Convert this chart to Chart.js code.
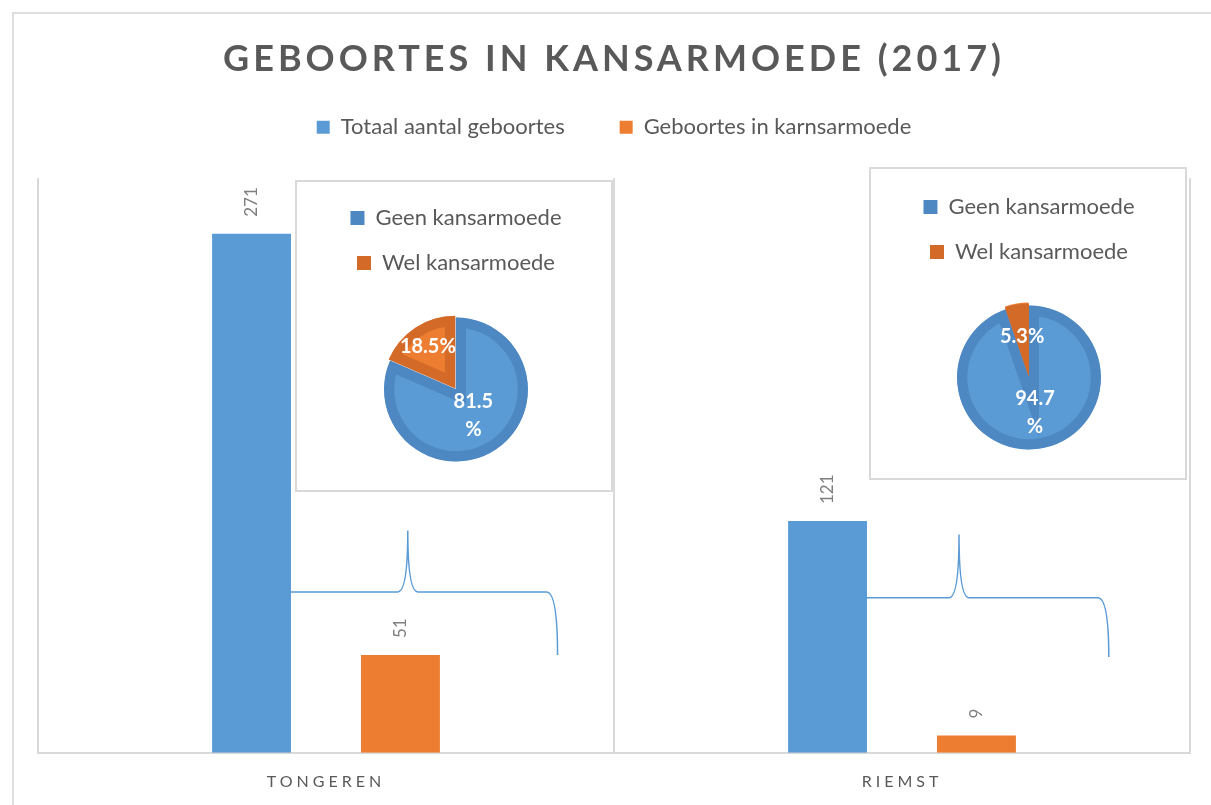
<!DOCTYPE html>
<html>
<head>
<meta charset="utf-8">
<script src="https://cdn.jsdelivr.net/npm/chart.js@4.4.1/dist/chart.umd.min.js"></script>
<style>
  html, body { margin: 0; padding: 0; background: #fff; }
  body { width: 1211px; height: 805px; position: relative; overflow: hidden; }
  #frame { position: absolute; left: 12px; top: 12px; width: 1300px; height: 900px; border: 2px solid #dedede; }
  #main { position: absolute; left: 0; top: 0; }
  .inset { position: absolute; background: #fff; border: 2px solid #d9d9d9; box-sizing: border-box; }
  .pie { position: absolute; }
</style>
</head>
<body>
<div id="frame"></div>
<canvas id="main" width="1211" height="805"></canvas>
<div class="inset" style="left:295px;top:180px;width:318px;height:312px"></div>
<div class="inset" style="left:869px;top:167px;width:318px;height:313px"></div>
<canvas class="pie" id="pieTongeren" width="318" height="320" style="left:297px;top:182px"></canvas>
<canvas class="pie" id="pieRiemst" width="318" height="320" style="left:870px;top:170px"></canvas>
<script>
const categories = ["TONGEREN", "RIEMST"];
const seriesNames = ["Totaal aantal geboortes", "Geboortes in karnsarmoede"];
const totalBirths = [271, 121];
const povertyBirths = [51, 9];
const yMax = 300;

const pieLabels = ["Geen kansarmoede", "Wel kansarmoede"];
const tongerenShares = [81.5, 18.5];
const riemstShares = [94.7, 5.3];

const BLUE = "#5B9BD5";
const ORANGE = "#ED7D31";
const BLUE_RING = "#4E88C2";
const ORANGE_RING = "#D36A28";
const TEXT = "#595959";

// draws text with extra spacing between letters for one layout box
function spaceLetters(obj, method, px) {
  if (!obj || obj["_sp_" + method]) return;
  const orig = obj[method];
  obj[method] = function (...a) {
    const c = this.ctx;
    c.save();
    c.letterSpacing = px;
    orig.apply(this, a);
    c.restore();
  };
  obj["_sp_" + method] = true;
}

const letterSpacing = {
  id: "letterSpacing",
  beforeDraw(chart) {
    spaceLetters(chart.titleBlock, "draw", "4px");
    spaceLetters(chart.scales.x, "drawLabels", "4px");
  }
};

// extra empty room under the legend, before the plot starts
const legendGap = {
  id: "legendGap",
  afterInit(chart, args, opts) {
    const legend = chart.legend;
    const fit = legend.fit;
    legend.fit = function () {
      fit.call(this);
      this.height += opts.extra;
    };
  }
};

const barValues = {
  id: "barValues",
  afterDatasetsDraw(chart) {
    const ctx = chart.ctx;
    ctx.save();
    ctx.fillStyle = "#7F7F7F";
    ctx.font = "17px Lato";
    ctx.textAlign = "left";
    ctx.textBaseline = "middle";
    chart.data.datasets.forEach((ds, di) => {
      chart.getDatasetMeta(di).data.forEach((bar, i) => {
        ctx.save();
        ctx.translate(bar.x, bar.y - 17);
        ctx.rotate(-Math.PI / 2);
        ctx.fillText(String(ds.data[i]), 0, 0);
        ctx.restore();
      });
    });
    ctx.restore();
  }
};

// curly braces linking the blue bar with the inset pie
const braces = {
  id: "braces",
  afterDatasetsDraw(chart, args, opts) {
    const ctx = chart.ctx;
    const x = chart.scales.x, y = chart.scales.y;
    const step = x.getPixelForValue(1) - x.getPixelForValue(0);
    const blue = chart.getDatasetMeta(0).data;
    ctx.save();
    ctx.strokeStyle = BLUE;
    ctx.lineWidth = 1.5;
    opts.items.forEach(b => {
      const c = x.getPixelForValue(b.category);
      const sx = blue[b.category].x + blue[b.category].width / 2;
      const tx = c + b.tipAt * step;
      const ex = c + b.endAt * step;
      const yl = y.getPixelForValue(b.level);
      const yt = y.getPixelForValue(b.tip);
      const ye = y.getPixelForValue(b.end);
      ctx.beginPath();
      ctx.moveTo(sx, yl);
      ctx.lineTo(tx - 10, yl);
      ctx.quadraticCurveTo(tx, yl, tx, yt);
      ctx.quadraticCurveTo(tx, yl, tx + 10, yl);
      ctx.lineTo(ex - 11, yl);
      ctx.quadraticCurveTo(ex, yl, ex, ye);
      ctx.stroke();
    });
    ctx.restore();
  }
};

new Chart(document.getElementById("main"), {
  type: "bar",
  data: {
    labels: categories,
    datasets: [
      { label: seriesNames[0], data: totalBirths, backgroundColor: BLUE, categoryPercentage: 0.517, barPercentage: 0.53 },
      { label: seriesNames[1], data: povertyBirths, backgroundColor: ORANGE, categoryPercentage: 0.517, barPercentage: 0.53 }
    ]
  },
  options: {
    responsive: false,
    animation: false,
    layout: { padding: { left: 38, right: 21, top: 12, bottom: -5 } },
    scales: {
      x: {
        grid: { color: "#d9d9d9", lineWidth: 2, drawTicks: false },
        border: { color: "#d9d9d9", width: 2 },
        ticks: { color: TEXT, font: { family: "Lato", size: 16 }, padding: 19, maxRotation: 0 }
      },
      y: { display: false, min: 0, max: yMax }
    },
    plugins: {
      title: {
        display: true,
        text: "GEBOORTES IN KANSARMOEDE (2017)",
        color: TEXT,
        font: { family: "Lato", size: 36, weight: "bold" },
        padding: { top: 26, bottom: -20 }
      },
      legend: {
        labels: {
          color: TEXT,
          font: { family: "Lato", size: 22 },
          boxWidth: 13,
          boxHeight: 13,
          padding: 55
        }
      },
      legendGap: { extra: 30 },
      braces: {
        items: [
          { category: 0, level: 84, tip: 116, end: 51, tipAt: 0.142, endAt: 0.402 },
          { category: 1, level: 81, tip: 114, end: 50, tipAt: 0.099, endAt: 0.359 }
        ]
      },
      tooltip: { enabled: false }
    }
  },
  plugins: [letterSpacing, legendGap, barValues, braces]
});

const sliceLabels = {
  id: "sliceLabels",
  afterDatasetsDraw(chart, args, opts) {
    const ctx = chart.ctx;
    const values = chart.data.datasets[0].data;
    ctx.save();
    ctx.fillStyle = "#fff";
    ctx.font = "bold 20px Lato";
    ctx.textAlign = "center";
    ctx.textBaseline = "middle";
    chart.getDatasetMeta(0).data.forEach((arc, i) => {
      const p = arc.getProps(["x", "y", "startAngle", "endAngle", "outerRadius"]);
      const mid = (p.startAngle + p.endAngle) / 2;
      const d = p.outerRadius * opts.radius[i] + (arc.options.offset || 0);
      const lx = p.x + Math.cos(mid) * d;
      const ly = p.y + Math.sin(mid) * d;
      const txt = values[i].toFixed(1);
      if (values[i] > 50) {
        ctx.fillText(txt, lx, ly - 14);
        ctx.fillText("%", lx, ly + 14);
      } else {
        ctx.fillText(txt + "%", lx, ly);
      }
    });
    ctx.restore();
  }
};

function makePie(id, shares, pad, labelRadius) {
  return new Chart(document.getElementById(id), {
    type: "pie",
    data: {
      labels: pieLabels,
      datasets: [{
        data: shares,
        backgroundColor: [BLUE, ORANGE],
        borderColor: [BLUE_RING, ORANGE_RING],
        borderWidth: 10,
        borderAlign: "inner",
        borderJoinStyle: "miter",
        offset: [0, 8],
        radius: 72
      }]
    },
    options: {
      responsive: false,
      animation: false,
      layout: { padding: pad },
      plugins: {
        legend: {
          labels: {
            color: TEXT,
            font: { family: "Lato", size: 22 },
            boxWidth: 14,
            boxHeight: 14,
            padding: 23,
            generateLabels(chart) {
              return Chart.overrides.pie.plugins.legend.labels.generateLabels(chart)
                .map(item => Object.assign(item, { fillStyle: item.strokeStyle, lineWidth: 0 }));
            }
          }
        },
        sliceLabels: { radius: labelRadius },
        tooltip: { enabled: false }
      }
    },
    plugins: [sliceLabels]
  });
}

makePie("pieTongeren", tongerenShares, { top: 2, bottom: 7 }, [0.44, 0.6]);
makePie("pieRiemst", riemstShares, { top: 3, bottom: 8 }, [0.5, 0.46]);
</script>
</body>
</html>
